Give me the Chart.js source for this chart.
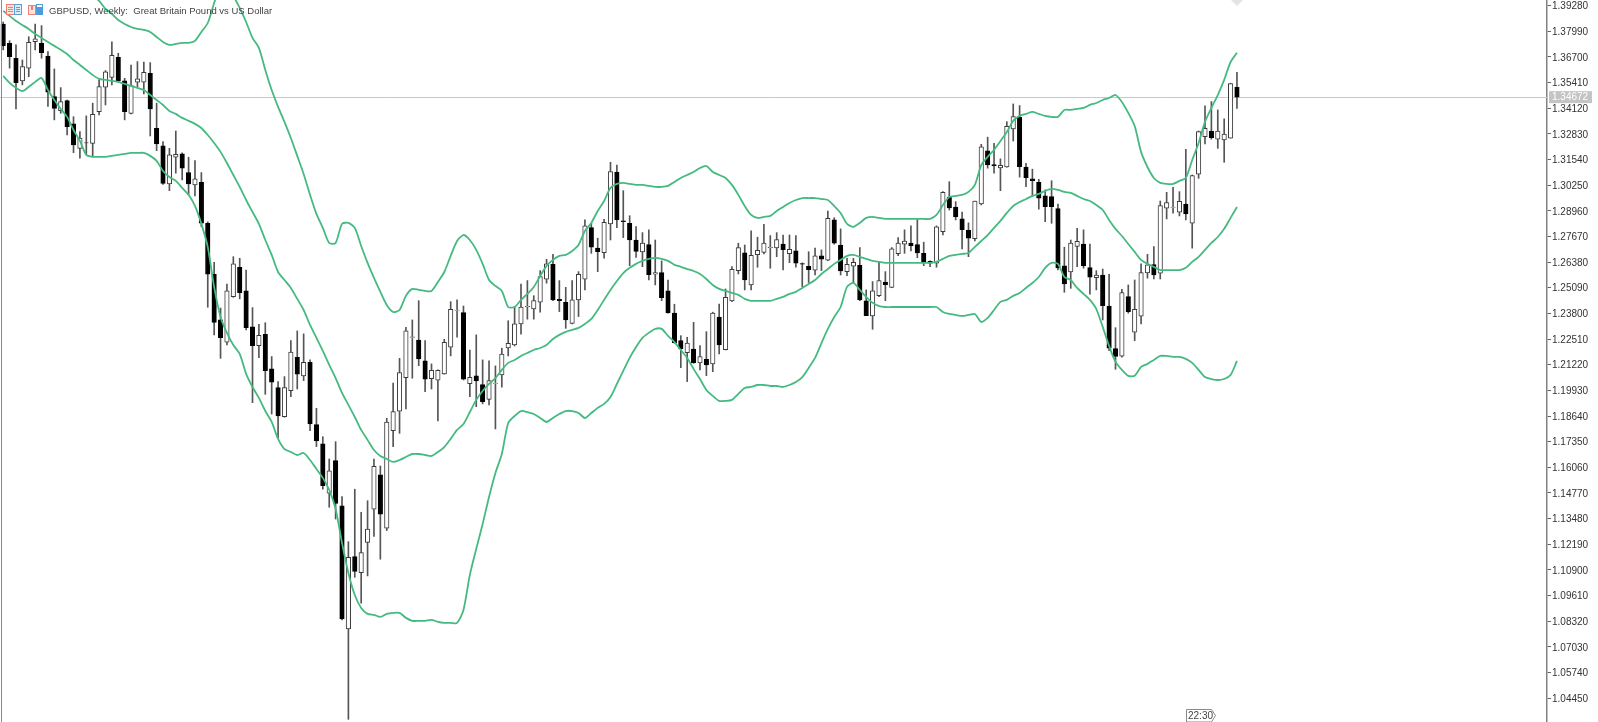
<!DOCTYPE html>
<html>
<head>
<meta charset="utf-8">
<title>GBPUSD, Weekly</title>
<script src="https://cdn.jsdelivr.net/npm/chart.js@4/dist/chart.umd.min.js"></script>
<style>
  html, body { margin: 0; padding: 0; background: #fff; }
  #chart { display: block; }
</style>
</head>
<body>
<canvas id="chart" width="1598" height="722"></canvas>
<script>
// Weekly candles, oldest first
const opens = [
  1.3835,1.3738,1.3663,1.3549,1.3613,1.3746,1.3738,1.3674,1.3470,1.3399,
  1.3450,1.3333,1.3210,1.3238,1.3235,1.3394,1.3517,1.3567,1.3668,1.3549,
  1.3386,1.3542,1.3542,1.3587,1.3311,1.3222,1.3031,1.3165,1.3182,1.3088,
  1.3026,1.3039,1.2833,1.2577,1.2347,1.2235,1.2464,1.2612,1.2493,1.2313,
  1.2218,1.2275,1.2101,1.2007,1.1861,1.1992,1.2159,1.2065,1.2134,1.1821,
  1.1724,1.1476,1.1640,1.1413,1.0793,1.1157,1.1076,1.1229,1.1395,1.1568,
  1.1300,1.1790,1.1888,1.2057,1.2259,1.2246,1.2142,1.2052,1.2044,1.2076,
  1.2210,1.2395,1.2384,1.2027,1.2066,1.2022,1.1948,1.2028,1.2070,1.2206,
  1.2221,1.2327,1.2412,1.2402,1.2436,1.2552,1.2627,1.2451,1.2436,1.2330,
  1.2448,1.2552,1.2811,1.2708,1.2685,1.2830,1.3091,1.2846,1.2833,1.2749,
  1.2689,1.2726,1.2577,1.2585,1.2493,1.2381,1.2243,1.2183,1.2200,1.2131,
  1.2149,1.2126,1.2361,1.2198,1.2443,1.2595,1.2685,1.2523,1.2675,1.2687,
  1.2711,1.2709,1.2729,1.2680,1.2694,1.2630,1.2617,1.2597,1.2669,1.2647,
  1.2851,1.2723,1.2590,1.2618,1.2622,1.2443,1.2367,1.2469,1.2537,1.2511,
  1.2680,1.2728,1.2734,1.2726,1.2682,1.2642,1.2632,1.2791,1.2965,1.2915,
  1.2855,1.2798,1.2756,1.2930,1.3197,1.3128,1.3111,1.3116,1.3307,1.3366,
  1.3116,1.3056,1.3039,1.2971,1.2967,1.2907,1.2619,1.2588,1.2717,1.2729,
  1.2610,1.2560,1.2572,1.2417,1.2203,1.2165,1.2464,1.2285,1.2366,1.2583,
  1.2625,1.2582,1.2909,1.2913,1.2889,1.2930,1.2833,1.3080,1.3269,1.3297,
  1.3256,1.3252,1.3261,1.3517
];
const closes = [
  1.3726,1.3671,1.3540,1.3621,1.3743,1.3760,1.3691,1.3492,1.3411,1.3445,
  1.3319,1.3227,1.3261,1.3237,1.3381,1.3520,1.3594,1.3678,1.3549,1.3394,
  1.3525,1.3559,1.3592,1.3408,1.3232,1.3034,1.3177,1.3180,1.3110,1.3031,
  1.3056,1.2833,1.2577,1.2335,1.2258,1.2493,1.2629,1.2484,1.2308,1.2218,
  1.2270,1.2092,1.2034,1.1864,1.2007,1.2185,1.2074,1.2134,1.1824,1.1739,
  1.1514,1.1588,1.1425,1.0844,1.1154,1.1082,1.1177,1.1295,1.1611,1.1370,
  1.1833,1.1886,1.2082,1.2292,1.2262,1.2151,1.2049,1.2094,1.2094,1.2235,
  1.2401,1.2397,1.2049,1.2059,1.2040,1.1936,1.2042,1.2030,1.2175,1.2230,
  1.2328,1.2412,1.2415,1.2444,1.2565,1.2629,1.2448,1.2444,1.2347,1.2448,
  1.2577,1.2820,1.2713,1.2690,1.2838,1.3093,1.2850,1.2841,1.2749,1.2692,
  1.2734,1.2575,1.2585,1.2459,1.2382,1.2233,1.2201,1.2231,1.2132,1.2163,
  1.2121,1.2381,1.2221,1.2461,1.2602,1.2711,1.2548,1.2672,1.2697,1.2734,
  1.2714,1.2751,1.2700,1.2702,1.2632,1.2627,1.2600,1.2669,1.2652,1.2858,
  1.2733,1.2593,1.2627,1.2637,1.2448,1.2369,1.2493,1.2545,1.2525,1.2704,
  1.2733,1.2743,1.2721,1.2684,1.2640,1.2632,1.2815,1.2989,1.2910,1.2865,
  1.2801,1.2758,1.2945,1.3217,1.3126,1.3121,1.3125,1.3321,1.3369,1.3118,
  1.3062,1.3047,1.2959,1.2917,1.2917,1.2608,1.2528,1.2734,1.2742,1.2619,
  1.2562,1.2573,1.2419,1.2205,1.2163,1.2484,1.2389,1.2401,1.2585,1.2624,
  1.2573,1.2922,1.2937,1.2915,1.2944,1.2880,1.3073,1.3294,1.3311,1.3264,
  1.3297,1.3281,1.3535,1.3467
];
const highs = [
  1.3845,1.3751,1.3730,1.3654,1.3771,1.3835,1.3827,1.3696,1.3609,1.3515,
  1.3453,1.3369,1.3294,1.3373,1.3437,1.3554,1.3601,1.3746,1.3688,1.3562,
  1.3629,1.3646,1.3643,1.3641,1.3437,1.3244,1.3210,1.3297,1.3187,1.3165,
  1.3148,1.3088,1.2840,1.2637,1.2407,1.2527,1.2665,1.2657,1.2598,1.2409,
  1.2325,1.2333,1.2163,1.2037,1.2062,1.2243,1.2292,1.2277,1.2146,1.1903,
  1.1760,1.1648,1.1735,1.1459,1.1232,1.1496,1.1380,1.1438,1.1647,1.1613,
  1.1853,1.2029,1.2154,1.2310,1.2347,1.2444,1.2243,1.2126,1.2096,1.2250,
  1.2439,1.2448,1.2417,1.2196,1.2272,1.2146,1.2142,1.2116,1.2205,1.2343,
  1.2414,1.2527,1.2545,1.2469,1.2595,1.2652,1.2677,1.2545,1.2511,1.2545,
  1.2590,1.2850,1.2833,1.2758,1.2853,1.3140,1.3126,1.2997,1.2871,1.2816,
  1.2786,1.2800,1.2749,1.2644,1.2548,1.2426,1.2268,1.2260,1.2335,1.2218,
  1.2288,1.2386,1.2427,1.2503,1.2615,1.2733,1.2724,1.2795,1.2763,1.2828,
  1.2771,1.2786,1.2774,1.2774,1.2771,1.2634,1.2690,1.2708,1.2699,1.2895,
  1.2861,1.2805,1.2657,1.2657,1.2711,1.2498,1.2540,1.2637,1.2590,1.2711,
  1.2761,1.2800,1.2820,1.2858,1.2738,1.2644,1.2820,1.2992,1.3042,1.2942,
  1.2889,1.2835,1.2945,1.3230,1.3266,1.3235,1.3157,1.3344,1.3433,1.3425,
  1.3135,1.3105,1.3054,1.3001,1.3047,1.2929,1.2713,1.2749,1.2808,1.2800,
  1.2729,1.2595,1.2603,1.2577,1.2308,1.2501,1.2523,1.2548,1.2629,1.2677,
  1.2716,1.2945,1.2989,1.3014,1.2992,1.3205,1.3076,1.3297,1.3423,1.3445,
  1.3403,1.3358,1.3537,1.3592
];
const lows = [
  1.3705,1.3613,1.3408,1.3529,1.3570,1.3705,1.3663,1.3420,1.3353,1.3386,
  1.3277,1.3188,1.3160,1.3177,1.3168,1.3378,1.3428,1.3529,1.3545,1.3353,
  1.3383,1.3520,1.3483,1.3272,1.3198,1.3029,1.2997,1.3085,1.3051,1.2976,
  1.2971,1.2816,1.2411,1.2272,1.2154,1.2221,1.2461,1.2453,1.2297,1.1931,
  1.2157,1.1973,1.1874,1.1752,1.1858,1.1961,1.2000,1.2042,1.1790,1.1710,
  1.1496,1.1405,1.1346,1.0839,1.0339,1.1053,1.0923,1.1060,1.1258,1.1144,
  1.1288,1.1710,1.1777,1.1900,1.2054,1.2117,1.1987,1.2000,1.1839,1.2074,
  1.2166,1.2260,1.2045,1.1961,1.1911,1.1925,1.1920,1.1799,1.2009,1.2166,
  1.2216,1.2275,1.2351,1.2351,1.2386,1.2532,1.2444,1.2389,1.2305,1.2327,
  1.2364,1.2498,1.2682,1.2590,1.2657,1.2749,1.2811,1.2761,1.2620,1.2662,
  1.2615,1.2548,1.2523,1.2444,1.2381,1.2230,1.2107,1.2037,1.2129,1.2096,
  1.2067,1.2087,1.2176,1.2196,1.2439,1.2578,1.2498,1.2498,1.2612,1.2679,
  1.2607,1.2665,1.2598,1.2635,1.2612,1.2514,1.2535,1.2573,1.2595,1.2645,
  1.2728,1.2573,1.2570,1.2532,1.2444,1.2369,1.2300,1.2464,1.2444,1.2509,
  1.2670,1.2682,1.2694,1.2660,1.2620,1.2615,1.2612,1.2774,1.2900,1.2850,
  1.2704,1.2665,1.2744,1.2925,1.3110,1.3085,1.2997,1.3115,1.3247,1.3065,
  1.3017,1.2967,1.2904,1.2841,1.2833,1.2598,1.2486,1.2506,1.2615,1.2607,
  1.2476,1.2498,1.2347,1.2193,1.2099,1.2160,1.2381,1.2243,1.2327,1.2557,
  1.2553,1.2553,1.2855,1.2884,1.2870,1.2850,1.2708,1.3059,1.3232,1.3256,
  1.3210,1.3140,1.3261,1.3411
];

// Bollinger bands, the upper one is off the top of the picture for the first 14 weeks
const upperBand = [
  null,null,null,null,null,null,null,null,null,null,
  null,null,null,null,1.3981,1.3951,1.3911,1.3886,1.3855,1.3835,
  1.3820,1.3810,1.3805,1.3795,1.3770,1.3745,1.3730,1.3735,1.3740,1.3740,
  1.3750,1.3795,1.3840,1.3941,1.4031,1.4031,1.3976,1.3916,1.3845,1.3765,
  1.3715,1.3604,1.3503,1.3418,1.3343,1.3262,1.3172,1.3081,1.2976,1.2880,
  1.2810,1.2734,1.2734,1.2830,1.2835,1.2810,1.2719,1.2634,1.2558,1.2488,
  1.2422,1.2387,1.2397,1.2468,1.2503,1.2498,1.2493,1.2493,1.2538,1.2588,
  1.2669,1.2744,1.2774,1.2749,1.2699,1.2629,1.2548,1.2518,1.2493,1.2412,
  1.2412,1.2448,1.2478,1.2513,1.2568,1.2619,1.2649,1.2669,1.2674,1.2694,
  1.2724,1.2795,1.2835,1.2895,1.2945,1.3011,1.3031,1.3036,1.3031,1.3026,
  1.3026,1.3021,1.3016,1.3016,1.3021,1.3041,1.3061,1.3076,1.3091,1.3111,
  1.3121,1.3091,1.3076,1.3061,1.3026,1.2976,1.2920,1.2875,1.2860,1.2865,
  1.2870,1.2895,1.2915,1.2935,1.2950,1.2960,1.2960,1.2960,1.2955,1.2950,
  1.2920,1.2885,1.2830,1.2815,1.2835,1.2860,1.2865,1.2860,1.2855,1.2855,
  1.2855,1.2855,1.2855,1.2855,1.2855,1.2855,1.2875,1.2925,1.2965,1.2971,
  1.2976,1.2991,1.3026,1.3126,1.3167,1.3202,1.3247,1.3292,1.3348,1.3373,
  1.3383,1.3393,1.3383,1.3373,1.3368,1.3368,1.3403,1.3403,1.3408,1.3413,
  1.3428,1.3438,1.3453,1.3463,1.3478,1.3443,1.3388,1.3322,1.3192,1.3116,
  1.3061,1.3036,1.3031,1.3031,1.3046,1.3061,1.3151,1.3237,1.3343,1.3413,
  1.3478,1.3554,1.3644,1.3690
];
const middleBand = [
  1.3901,1.3876,1.3850,1.3830,1.3810,1.3785,1.3765,1.3745,1.3725,1.3705,
  1.3684,1.3654,1.3629,1.3604,1.3579,1.3559,1.3554,1.3549,1.3544,1.3534,
  1.3524,1.3514,1.3503,1.3478,1.3453,1.3428,1.3398,1.3383,1.3363,1.3348,
  1.3333,1.3312,1.3277,1.3237,1.3192,1.3136,1.3076,1.3016,1.2950,1.2890,
  1.2830,1.2749,1.2674,1.2588,1.2548,1.2508,1.2453,1.2397,1.2322,1.2257,
  1.2191,1.2121,1.2055,1.1980,1.1920,1.1859,1.1794,1.1744,1.1693,1.1663,
  1.1648,1.1633,1.1643,1.1658,1.1673,1.1673,1.1668,1.1663,1.1683,1.1708,
  1.1749,1.1794,1.1824,1.1884,1.1945,1.1990,1.2025,1.2055,1.2096,1.2131,
  1.2146,1.2166,1.2181,1.2196,1.2206,1.2221,1.2251,1.2272,1.2287,1.2297,
  1.2307,1.2327,1.2352,1.2397,1.2448,1.2498,1.2543,1.2583,1.2609,1.2629,
  1.2644,1.2654,1.2659,1.2654,1.2644,1.2624,1.2614,1.2603,1.2593,1.2578,
  1.2553,1.2523,1.2503,1.2493,1.2483,1.2473,1.2453,1.2443,1.2443,1.2443,
  1.2443,1.2453,1.2463,1.2478,1.2488,1.2508,1.2528,1.2548,1.2578,1.2603,
  1.2629,1.2649,1.2669,1.2674,1.2664,1.2654,1.2644,1.2639,1.2634,1.2634,
  1.2634,1.2634,1.2634,1.2634,1.2634,1.2634,1.2639,1.2654,1.2669,1.2674,
  1.2679,1.2684,1.2714,1.2744,1.2774,1.2810,1.2845,1.2885,1.2920,1.2940,
  1.2955,1.2971,1.2981,1.2996,1.3006,1.3001,1.2991,1.2986,1.2971,1.2955,
  1.2945,1.2925,1.2900,1.2850,1.2805,1.2769,1.2729,1.2689,1.2649,1.2629,
  1.2614,1.2598,1.2598,1.2598,1.2598,1.2609,1.2639,1.2664,1.2699,1.2734,
  1.2764,1.2805,1.2860,1.2915
];
const lowerBand = [
  1.3574,1.3539,1.3514,1.3498,1.3519,1.3544,1.3564,1.3503,1.3453,1.3408,
  1.3368,1.3302,1.3247,1.3177,1.3167,1.3167,1.3167,1.3172,1.3177,1.3182,
  1.3187,1.3187,1.3187,1.3172,1.3147,1.3096,1.3066,1.3046,1.3011,1.2976,
  1.2920,1.2830,1.2714,1.2513,1.2362,1.2282,1.2221,1.2176,1.2076,1.2010,
  1.1955,1.1889,1.1834,1.1749,1.1698,1.1683,1.1668,1.1678,1.1643,1.1598,
  1.1553,1.1492,1.1397,1.1226,1.1075,1.0964,1.0899,1.0869,1.0864,1.0854,
  1.0869,1.0874,1.0874,1.0849,1.0834,1.0834,1.0834,1.0839,1.0829,1.0824,
  1.0824,1.0824,1.0889,1.1065,1.1196,1.1321,1.1457,1.1578,1.1673,1.1829,
  1.1864,1.1889,1.1884,1.1874,1.1854,1.1834,1.1854,1.1874,1.1889,1.1889,
  1.1879,1.1854,1.1879,1.1905,1.1925,1.1960,1.2025,1.2091,1.2156,1.2211,
  1.2257,1.2282,1.2302,1.2302,1.2267,1.2236,1.2196,1.2156,1.2101,1.2050,
  1.1995,1.1965,1.1940,1.1940,1.1945,1.1975,1.2005,1.2010,1.2020,1.2020,
  1.2015,1.2015,1.2010,1.2020,1.2035,1.2060,1.2106,1.2156,1.2231,1.2302,
  1.2362,1.2412,1.2513,1.2533,1.2498,1.2463,1.2433,1.2417,1.2412,1.2412,
  1.2412,1.2412,1.2412,1.2412,1.2412,1.2412,1.2412,1.2387,1.2377,1.2372,
  1.2367,1.2372,1.2377,1.2337,1.2357,1.2397,1.2438,1.2448,1.2468,1.2483,
  1.2508,1.2533,1.2563,1.2609,1.2634,1.2629,1.2563,1.2548,1.2508,1.2478,
  1.2448,1.2402,1.2312,1.2216,1.2136,1.2096,1.2066,1.2066,1.2111,1.2126,
  1.2146,1.2166,1.2166,1.2161,1.2161,1.2151,1.2131,1.2096,1.2060,1.2050,
  1.2045,1.2050,1.2070,1.2141
];

// Right hand price axis
const tickValues = [
  1.39280,1.37990,1.36700,1.35410,1.34120,1.32830,1.31540,1.30250,1.28960,1.27670,
  1.26380,1.25090,1.23800,1.22510,1.21220,1.19930,1.18640,1.17350,1.16060,1.14770,
  1.13480,1.12190,1.10900,1.09610,1.08320,1.07030,1.05740,1.04450
];
const axisMin = 1.03255;
const axisMax = 1.39557;
const lastPrice = 1.34672;
const chartTitle = 'GBPUSD, Weekly:  Great Britain Pound vs US Dollar';
const barCountdown = '22:30';

// Empty weeks to the right of the last candle, MT5 style chart shift
const emptySlots = 48;

const GREEN = '#45ba80';
const DARK = '#3a3a3a';

const weeks = opens.map((_, i) => 'W' + (i + 1));
const labels = weeks.concat(new Array(emptySlots).fill(''));

function bandDataset(label, values) {
    return {
        type: 'line',
        label: label,
        data: values,
        borderColor: GREEN,
        borderWidth: 1.8,
        pointRadius: 0,
        tension: 0.25,
        fill: false,
        order: 0
    };
}

// Title, icons, price line and the small tags MT5 draws over the chart
const terminalDecor = {
    id: 'terminalDecor',
    beforeDatasetsDraw(chart) {
        const { ctx, chartArea, scales } = chart;
        const y = Math.round(scales.y.getPixelForValue(lastPrice)) + 0.5;
        ctx.save();
        ctx.strokeStyle = '#c8c8c8';
        ctx.lineWidth = 1;
        ctx.beginPath();
        ctx.moveTo(0, y);
        ctx.lineTo(chartArea.right, y);
        ctx.stroke();
        ctx.restore();
    },
    afterDraw(chart) {
        const { ctx, chartArea, scales } = chart;
        ctx.save();

        // left frame
        ctx.fillStyle = '#8a8a8a';
        ctx.fillRect(1, 0, 1, 722);

        // two toolbar icons
        ctx.fillStyle = '#fbe3de';
        ctx.fillRect(7, 5, 8, 9);
        ctx.fillStyle = '#dcebf8';
        ctx.fillRect(15, 5, 6, 9);
        ctx.strokeStyle = '#ee7f72';
        ctx.strokeRect(6.5, 4.5, 8, 10);
        ctx.strokeStyle = '#5c9fd6';
        ctx.strokeRect(14.5, 4.5, 7, 10);
        ctx.fillStyle = '#ee7f72';
        ctx.fillRect(8, 7, 5, 1);
        ctx.fillRect(8, 9, 5, 1);
        ctx.fillRect(8, 11, 5, 1);
        ctx.fillStyle = '#5c9fd6';
        ctx.fillRect(16, 7, 4, 1);
        ctx.fillRect(16, 9, 4, 1);
        ctx.fillRect(16, 11, 4, 1);

        ctx.fillStyle = '#fbe3de';
        ctx.fillRect(29, 5, 6, 9);
        ctx.fillStyle = '#4f9ad8';
        ctx.fillRect(37, 7, 6, 8);
        ctx.strokeStyle = '#ee7f72';
        ctx.strokeRect(28.5, 5.5, 7, 9);
        ctx.strokeStyle = '#4f9ad8';
        ctx.strokeRect(36.5, 4.5, 6, 10);
        ctx.fillStyle = '#ee7f72';
        ctx.fillRect(31, 5, 2, 5);

        // title
        ctx.fillStyle = '#444';
        ctx.font = '9.5px "Liberation Sans"';
        ctx.textAlign = 'left';
        ctx.textBaseline = 'alphabetic';
        ctx.fillText(chartTitle, 49, 14);

        // last price tag
        const py = scales.y.getPixelForValue(lastPrice);
        ctx.fillStyle = '#c4c4c4';
        ctx.fillRect(chartArea.right + 2, py - 6, 43, 12);
        ctx.fillStyle = '#fff';
        ctx.font = '10px "Liberation Sans"';
        ctx.textBaseline = 'middle';
        ctx.fillText(lastPrice.toFixed(5), chartArea.right + 5, py + 0.5);

        // countdown tag at the bottom
        ctx.fillStyle = '#fff';
        ctx.strokeStyle = '#8a8a8a';
        ctx.beginPath();
        ctx.moveTo(1186.5, 722);
        ctx.lineTo(1186.5, 709.5);
        ctx.lineTo(1211.5, 709.5);
        ctx.lineTo(1215.5, 715.5);
        ctx.lineTo(1211.5, 722);
        ctx.closePath();
        ctx.fill();
        ctx.stroke();
        ctx.fillStyle = '#444';
        ctx.fillText(barCountdown, 1188, 716);

        // faint marker cut off by the top edge
        ctx.fillStyle = '#e4e4e4';
        ctx.beginPath();
        ctx.moveTo(1231, 0);
        ctx.lineTo(1243, 0);
        ctx.lineTo(1237, 6);
        ctx.closePath();
        ctx.fill();

        ctx.restore();
    }
};

new Chart(document.getElementById('chart').getContext('2d'), {
    data: {
        labels: labels,
        datasets: [
            bandDataset('Upper band', upperBand),
            bandDataset('Middle band', middleBand),
            bandDataset('Lower band', lowerBand),
            {
                type: 'bar',
                label: 'Body',
                data: opens.map((o, i) => [o, closes[i]]),
                backgroundColor: opens.map((o, i) => (closes[i] >= o ? '#ffffff' : '#000000')),
                borderColor: opens.map((o, i) => (closes[i] >= o ? DARK : '#000000')),
                borderWidth: 1,
                borderSkipped: false,
                barThickness: 4.5,
                grouped: false,
                order: 1
            },
            {
                type: 'bar',
                label: 'Wick',
                data: lows.map((l, i) => [l, highs[i]]),
                backgroundColor: '#555555',
                borderWidth: 0,
                barThickness: 1,
                grouped: false,
                order: 2
            }
        ]
    },
    options: {
        responsive: false,
        animation: false,
        layout: { autoPadding: false, padding: { left: -1 } },
        plugins: {
            legend: { display: false },
            tooltip: { enabled: false },
            title: { display: false }
        },
        scales: {
            x: {
                display: false,
                offset: true,
                grid: { display: false }
            },
            y: {
                position: 'right',
                min: axisMin,
                max: axisMax,
                afterBuildTicks(scale) {
                    scale.ticks = tickValues.map(v => ({ value: v }));
                },
                afterFit(scale) {
                    // no room kept for half a label, the plot runs edge to edge
                    scale.width = 51;
                    scale.paddingTop = 0;
                    scale.paddingBottom = 0;
                },
                border: { color: '#808080', width: 1.5 },
                grid: { drawOnChartArea: false, tickLength: 4, tickColor: '#666', offset: false },
                ticks: {
                    autoSkip: false,
                    padding: 1,
                    labelOffset: 1,
                    color: '#333',
                    font: { family: 'Liberation Sans', size: 10 },
                    callback: v => v.toFixed(5)
                }
            }
        }
    },
    plugins: [terminalDecor]
});
</script>
</body>
</html>
